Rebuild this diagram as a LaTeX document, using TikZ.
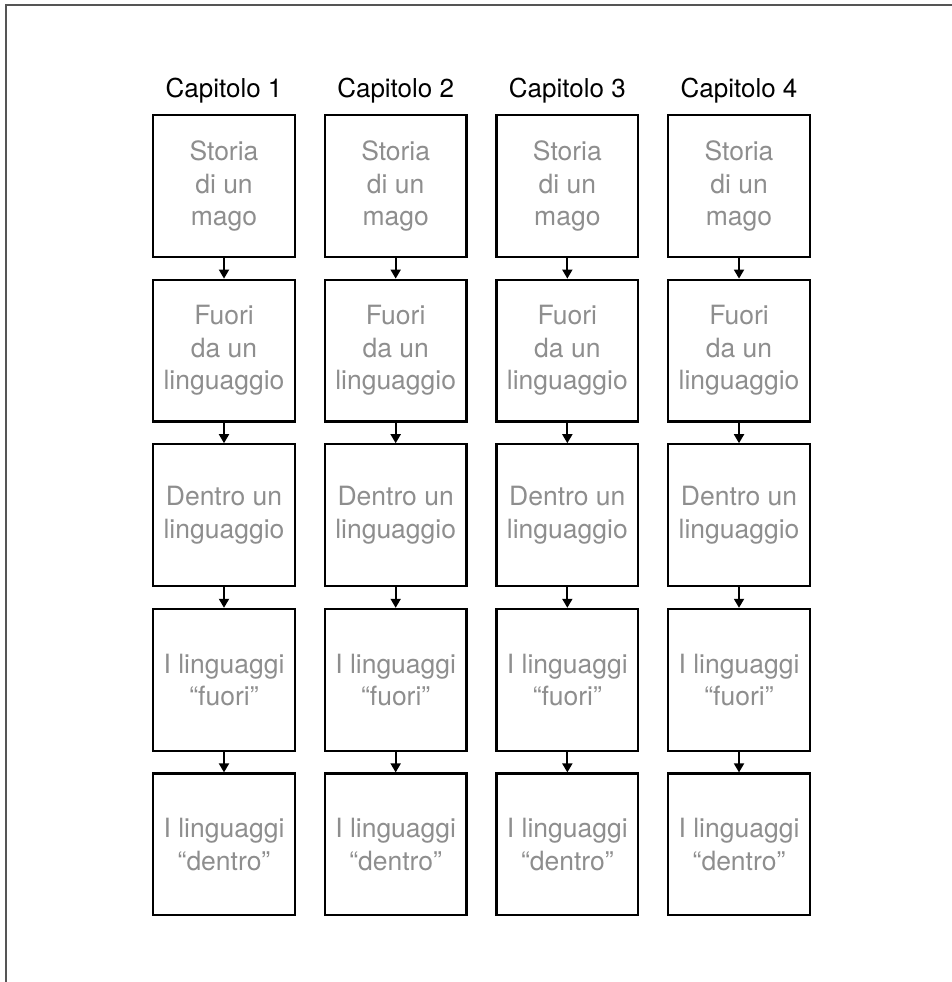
\documentclass[tikz,border=0pt]{standalone}
\usepackage{fontspec}
\setmainfont{TeX Gyre Heros}
\usetikzlibrary{arrows.meta, positioning}
\definecolor{boxtext}{HTML}{8E8E8E}
\definecolor{framegray}{HTML}{555555}

\begin{document}
\begin{tikzpicture}[
        x=1pt, y=-1pt,
        every node/.style={align=center},
        box/.style={draw, line width=2.2pt, minimum width=141.8pt,
                    minimum height=141.8pt, inner sep=0pt, text=boxtext,
                    font=\fontsize{26.5}{32.5}\selectfont},
        chap/.style={anchor=base, font=\fontsize{26}{30}\selectfont},
        arr/.style={-{Triangle[length=9pt, width=10pt]}, line width=1.8pt},
        frame/.style={draw=framegray, line width=2pt}
    ]
        \useasboundingbox (0,0) rectangle (952,982);
        \draw[frame] (5.5,995) |- (960,5);

        % four chapters, five stages each
        \foreach \c in {1,...,4} {
            \node[chap] (cap-\c) at ({224+(\c-1)*171.67},97) {Capitolo \c};
            \foreach \r/\t in {1/{Storia\\di un\\mago},
                               2/{Fuori\\da un\\linguaggio},
                               3/{Dentro un\\linguaggio},
                               4/{I linguaggi\\``fuori''},
                               5/{I linguaggi\\``dentro''}} {
                \node[box] (b-\c-\r) at ({224+(\c-1)*171.67},{186+(\r-1)*164.6}) {\t};
            }
            \foreach \r [evaluate=\r as \n using int(\r+1)] in {1,...,4}
                \draw[arr] (b-\c-\r.south) -- (b-\c-\n.north);
        }
    \end{tikzpicture}
\end{document}
